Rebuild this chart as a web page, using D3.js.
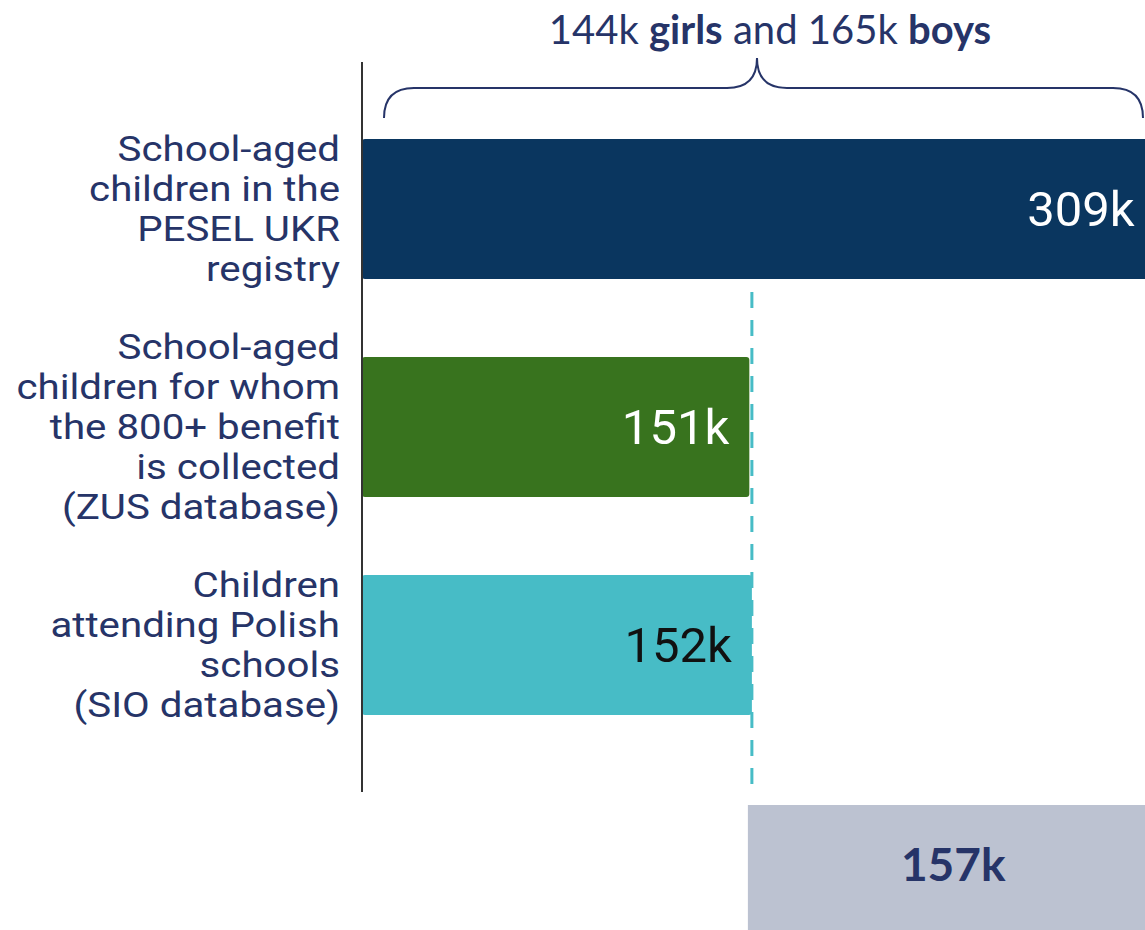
<!DOCTYPE html>
<html>
<head>
<meta charset="utf-8">
<script src="https://cdn.jsdelivr.net/npm/d3@7"></script>
<style>
  body { margin: 0; background: #fff; }
  svg { display: block; }
</style>
</head>
<body>
<svg id="chart"></svg>
<script>
/* DATA */
var categories = [
  ["School-aged", "children in the", "PESEL UKR", "registry"],
  ["School-aged", "children for whom", "the 800+ benefit", "is collected", "(ZUS database)"],
  ["Children", "attending Polish", "schools", "(SIO database)"]
];
var values = [309, 151, 152];
var barColors = ["#0a365f", "#38731e", "#47bcc6"];
var valueColors = ["#ffffff", "#ffffff", "#111111"];
var girls = 144;
var boys = 165;

/* SETUP */
var width = 1145;
var height = 930;
var navy = "#263468";
var left = 362;

var svg = d3.select("svg#chart")
  .attr("width", width)
  .attr("height", height);

var x = d3.scaleLinear()
  .domain([0, 309])
  .range([left, left + 792.6]);

var y = d3.scaleBand()
  .domain(d3.range(values.length))
  .range([62, 792])
  .paddingInner(0.358)
  .paddingOuter(0.353);

var plot = svg.append("g").attr("id", "plot");

/* BARS */
plot.selectAll("rect.bar")
  .data(values)
  .enter()
  .append("rect")
  .attr("class", "bar")
  .attr("x", x(0))
  .attr("y", (d, i) => y(i))
  .attr("width", d => x(d) - x(0))
  .attr("height", y.bandwidth())
  .attr("rx", 3)
  .attr("fill", (d, i) => barColors[i]);

/* AXIS LINE */
plot.append("line")
  .attr("x1", x(0)).attr("x2", x(0))
  .attr("y1", 62).attr("y2", 792)
  .attr("stroke", "#333")
  .attr("stroke-width", 2);

/* VALUE LABELS */
plot.selectAll("text.value")
  .data(values)
  .enter()
  .append("text")
  .attr("class", "value")
  .attr("x", d => x(d) - 20)
  .attr("y", (d, i) => y(i) + y.bandwidth() / 2 + 17)
  .attr("text-anchor", "end")
  .style("font-family", "Roboto")
  .style("font-size", "49px")
  .attr("fill", (d, i) => valueColors[i])
  .text(d => d + "k");

/* CATEGORY LABELS (source art is a bit stretched horizontally) */
var lineHeight = 40;
var labelX = 340;
categories.forEach(function(lines, i) {
  var cy = y(i) + y.bandwidth() / 2;
  var first = cy - (lines.length - 1) * lineHeight / 2 + 12;
  var t = plot.append("text")
    .attr("text-anchor", "end")
    .attr("transform", "translate(" + labelX + ",0) scale(1.15,1)")
    .style("font-family", "Roboto")
    .style("font-size", "35px")
    .attr("fill", navy);
  t.selectAll("tspan")
    .data(lines)
    .enter()
    .append("tspan")
    .attr("x", 0)
    .attr("y", (d, j) => first + j * lineHeight)
    .text(d => d);
});

/* DASHED REFERENCE LINE */
plot.append("line")
  .attr("x1", x(values[2])).attr("x2", x(values[2]))
  .attr("y1", 292).attr("y2", 786)
  .attr("stroke", barColors[2])
  .attr("stroke-width", 3)
  .attr("stroke-dasharray", "16 12");

/* GAP BOX */
var gap = values[0] - values[2];
plot.append("rect")
  .attr("x", x(values[2]) - 4)
  .attr("y", 805)
  .attr("width", x(values[0]) - x(values[2]) + 4)
  .attr("height", 125)
  .attr("fill", "#bcc2d1");

plot.append("text")
  .attr("x", (x(values[2]) + x(values[0])) / 2)
  .attr("y", 881)
  .attr("text-anchor", "middle")
  .style("font-family", "Lato")
  .style("font-weight", "bold")
  .style("font-size", "46px")
  .attr("fill", navy)
  .text(gap + "k");

/* BRACE */
var bx0 = x(0) + 22, bx1 = width - 2, bm = 757;
var bTop = 58, bMid = 88, bBot = 118;
var brace = d3.path();
brace.moveTo(bx0, bBot);
brace.quadraticCurveTo(bx0, bMid, bx0 + 30, bMid);
brace.lineTo(bm - 30, bMid);
brace.quadraticCurveTo(bm, bMid, bm, bTop);
brace.quadraticCurveTo(bm, bMid, bm + 30, bMid);
brace.lineTo(bx1 - 30, bMid);
brace.quadraticCurveTo(bx1, bMid, bx1, bBot);

plot.append("path")
  .attr("d", brace.toString())
  .attr("fill", "none")
  .attr("stroke", navy)
  .attr("stroke-width", 2);

/* TOP ANNOTATION */
var note = plot.append("text")
  .attr("x", 770)
  .attr("y", 44)
  .attr("text-anchor", "middle")
  .style("font-family", "Lato")
  .style("font-size", "40px")
  .attr("fill", navy);
note.append("tspan").text(girls + "k ");
note.append("tspan").style("font-weight", "bold").text("girls");
note.append("tspan").text(" and " + boys + "k ");
note.append("tspan").style("font-weight", "bold").text("boys");
</script>
</body>
</html>
